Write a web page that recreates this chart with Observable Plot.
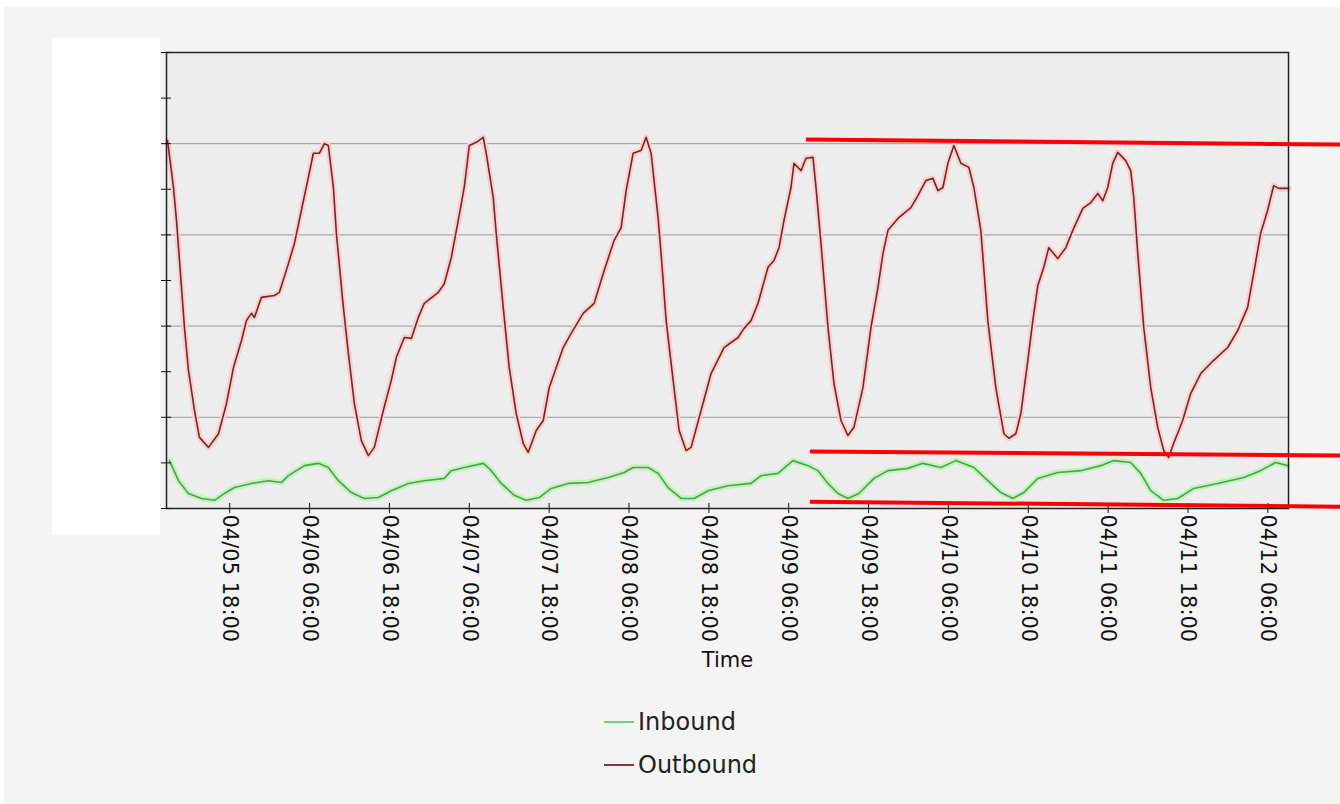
<!DOCTYPE html>
<html>
<head>
<meta charset="utf-8">
<script src="https://cdn.jsdelivr.net/npm/d3@7"></script>
<script src="https://cdn.jsdelivr.net/npm/@observablehq/plot@0.6"></script>
<style>
  html, body { margin: 0; padding: 0; background: #ffffff; }
  #page { position: absolute; left: 4px; top: 7px; width: 1336px; height: 797px; background: #f4f4f4; }
  #chart { position: absolute; left: -4px; top: -7px; }
  #redact { position: absolute; left: 48px; top: 31px; width: 108px; height: 497px; background: #ffffff; }
  #legend { position: absolute; left: 600px; top: 693px; font-family: "DejaVu Sans", sans-serif; font-size: 24px; color: #222; }
  .item { display: flex; align-items: center; height: 43px; }
  .sw { width: 30px; height: 0; margin-right: 4px; }
</style>
</head>
<body>
<div id="page">
  <div id="chart"></div>
  <div id="redact"></div>
  <div id="legend">
    <div class="item"><div class="sw" style="border-top:2px solid #6fd46f"></div><span>Inbound</span></div>
    <div class="item"><div class="sw" style="border-top:2px solid #8c3434"></div><span>Outbound</span></div>
  </div>
</div>
<script>
// ---- data (hours after start, value on the hidden 0-10 axis) ----
const startTime = "2013-04-05T08:30:00Z";
const domainHours = [0, 168.6];

const outHours = [0.15,1.05,1.5,2.7,3.3,4.2,4.95,6.31,7.81,9.01,10.06,11.26,12.01,12.76,13.21,14.26,16.22,16.97,18.32,19.22,20.27,21.32,22.07,22.97,23.72,24.32,25.08,25.53,26.58,27.33,28.23,29.28,30.33,31.23,32.58,33.78,34.53,35.74,36.79,37.84,38.74,40.84,41.74,42.79,43.84,44.74,45.5,46.55,47.6,48.05,49.1,49.55,50.6,51.5,52.55,53.6,54.35,55.56,56.61,57.51,59.61,60.81,62.61,64.26,65.77,67.27,68.32,69.07,70.12,71.32,72.07,72.82,73.87,74.32,75.08,76.13,77.03,78.08,78.83,80.33,81.83,83.78,85.89,86.79,87.84,88.89,90.39,91.29,92.04,92.79,93.84,94.29,95.35,96.1,97.15,97.6,98.35,99.4,100.3,101.35,102.4,103.3,104.65,105.86,106.91,107.66,108.41,109.91,111.86,112.91,114.11,115.17,115.92,116.67,117.42,118.32,119.37,120.57,121.32,122.37,123.42,124.62,125.83,126.58,127.63,128.38,129.43,130.18,130.93,131.83,132.58,133.93,135.14,136.19,137.69,138.89,139.94,140.69,141.44,142.19,142.94,144.14,144.89,145.35,145.95,146.85,147.9,148.95,149.85,150.6,151.35,152.7,153.9,155.41,157.36,159.46,160.96,162.46,163.36,164.41,165.47,166.37,167.12,168.62];
const outbound = [8.07,7.04,6.32,3.97,3.03,2.15,1.56,1.34,1.64,2.3,3.09,3.68,4.12,4.28,4.19,4.63,4.67,4.74,5.37,5.81,6.54,7.26,7.79,7.79,8.0,7.96,7.04,6.03,4.41,3.4,2.3,1.49,1.16,1.34,2.15,2.81,3.31,3.75,3.73,4.19,4.5,4.74,4.93,5.5,6.32,7.04,7.96,8.03,8.14,7.79,6.82,6.03,4.41,3.09,2.08,1.43,1.23,1.71,1.93,2.65,3.53,3.84,4.28,4.5,5.22,5.88,6.16,6.97,7.79,7.85,8.14,7.79,6.38,5.59,4.12,2.81,1.71,1.27,1.34,2.15,2.96,3.53,3.75,3.95,4.12,4.5,5.29,5.44,5.72,6.32,7.04,7.57,7.41,7.68,7.7,7.04,5.81,3.97,2.74,1.93,1.6,1.78,2.65,3.97,4.85,5.59,6.1,6.36,6.6,6.86,7.19,7.24,6.97,7.04,7.57,7.96,7.57,7.48,7.04,6.1,4.12,2.65,1.64,1.54,1.64,2.08,3.25,4.12,4.89,5.29,5.72,5.48,5.72,6.1,6.58,6.71,6.91,6.75,7.04,7.57,7.81,7.63,7.41,6.82,5.59,3.97,2.65,1.78,1.27,1.12,1.43,1.93,2.52,2.96,3.25,3.53,3.9,4.41,5.15,6.03,6.54,7.08,7.02,7.02];

const inHours = [0.45,1.8,3.3,5.26,7.21,8.71,10.21,12.76,15.32,17.27,18.32,20.72,22.82,24.32,25.83,27.78,29.73,31.83,33.78,36.34,38.74,41.74,42.79,44.74,47.6,48.8,50.3,52.25,54.05,56.01,57.81,60.36,63.36,66.37,68.77,70.12,72.37,73.87,75.38,77.33,79.28,81.38,84.38,87.84,89.34,91.89,94.14,96.4,97.9,99.4,100.9,102.4,104.05,106.31,108.41,111.41,113.66,116.37,118.62,121.32,123.42,125.38,127.18,128.83,130.93,133.93,137.39,140.39,142.34,144.89,146.4,147.9,149.85,151.95,154.35,157.96,161.86,164.41,166.67,168.47];
const inbound = [1.05,0.61,0.33,0.22,0.18,0.33,0.46,0.55,0.61,0.57,0.72,0.94,0.99,0.9,0.61,0.35,0.22,0.24,0.39,0.55,0.61,0.66,0.83,0.9,0.99,0.83,0.55,0.29,0.18,0.24,0.44,0.55,0.57,0.68,0.79,0.9,0.9,0.77,0.46,0.22,0.22,0.39,0.5,0.55,0.72,0.77,1.05,0.94,0.83,0.55,0.33,0.22,0.33,0.66,0.83,0.88,0.99,0.9,1.05,0.9,0.61,0.35,0.22,0.35,0.66,0.79,0.83,0.94,1.05,1.01,0.77,0.39,0.18,0.22,0.44,0.55,0.68,0.83,1.01,0.94];

const tickLabels = ["04/05 18:00","04/06 06:00","04/06 18:00","04/07 06:00","04/07 18:00","04/08 06:00","04/08 18:00","04/09 06:00","04/09 18:00","04/10 06:00","04/10 18:00","04/11 06:00","04/11 18:00","04/12 06:00"];
const yTicks = [0,1,2,3,4,5,6,7,8,9,10];
const yGrid = [2,4,6,8];

// hand-drawn red annotation lines (hours, value)
const annoH1 = [96.1, 96.7, 96.7];
const annoV1 = [8.09, 1.25, 0.15];
const annoH2 = [176.4, 176.4, 176.4];
const annoV2 = [7.98, 1.16, 0.04];

// ---- build ----
const t0 = new Date(startTime).getTime();
const toDate = h => new Date(t0 + h * 3600e3);
const outData = outHours.map((h, i) => ({t: toDate(h), v: outbound[i]}));
const inData = inHours.map((h, i) => ({t: toDate(h), v: inbound[i]}));
const tickDates = tickLabels.map(s => {
  const [md, hm] = s.split(" ");
  const [mo, d] = md.split("/").map(Number);
  const [hh, mm] = hm.split(":").map(Number);
  return new Date(Date.UTC(2013, mo - 1, d, hh, mm));
});
const annos = annoH1.map((h, i) => ({x1: toDate(h), y1: annoV1[i], x2: toDate(annoH2[i]), y2: annoV2[i]}));
const fmt = d3.utcFormat("%m/%d %H:%M");

const chart = Plot.plot({
  width: 1340,
  height: 680,
  marginTop: 52,
  marginLeft: 166,
  marginRight: 52,
  marginBottom: 172,
  style: {fontFamily: "DejaVu Sans, sans-serif", background: "transparent", color: "#111", overflow: "visible"},
  x: {type: "utc", domain: domainHours.map(toDate)},
  y: {domain: [0, 10]},
  marks: [
    Plot.frame({fill: "#ededed", stroke: "none"}),
    Plot.gridY(yGrid, {stroke: "#9a9a9a", strokeOpacity: 1, strokeWidth: 1}),
    Plot.line(inData, {x: "t", y: "v", stroke: "#c4f2bf", strokeWidth: 6}),
    Plot.line(inData, {x: "t", y: "v", stroke: "#45a845", strokeWidth: 1.6}),
    Plot.line(outData, {x: "t", y: "v", stroke: "#f7d0d0", strokeWidth: 6}),
    Plot.line(outData, {x: "t", y: "v", stroke: "#7c2424", strokeWidth: 1.6}),
    Plot.frame({stroke: "#222", strokeWidth: 1.5}),
    Plot.axisY(yTicks, {tickSize: 5, tickFormat: () => "", label: null}),
    Plot.axisY(yTicks, {tickSize: -5, tickFormat: () => "", label: null}),
    Plot.axisX(tickDates, {tickSize: 5, tickFormat: () => "", label: null}),
    Plot.axisX(tickDates, {tickSize: -5, tickFormat: () => "", label: null}),
    Plot.axisX(tickDates, {tickSize: 0, tickPadding: 6, tickRotate: 90, tickFormat: fmt, fontSize: 21,
      label: "Time", labelAnchor: "center", labelOffset: 158, labelArrow: false}),
    Plot.link(annos, {x1: "x1", y1: "y1", x2: "x2", y2: "y2", stroke: "#ff0000", strokeWidth: 4, clip: false})
  ]
});
document.getElementById("chart").appendChild(chart);
</script>
</body>
</html>
